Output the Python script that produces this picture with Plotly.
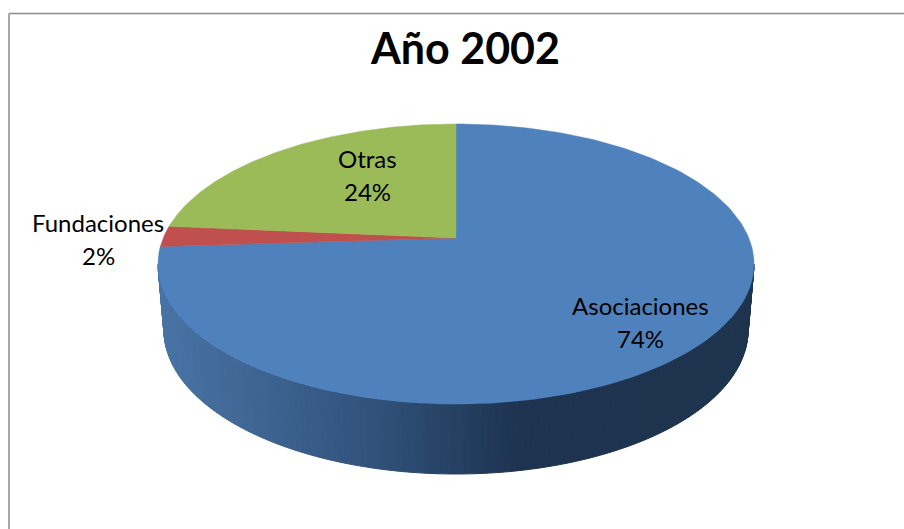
import numpy as np
import plotly.graph_objects as go

categories = ["Asociaciones", "Fundaciones", "Otras"]
values = [74.0, 2.4, 23.6]
colors = ["#4F81BD", "#C0504D", "#9BBB59"]
title = "Año 2002"

# label centres in page pixels
label_x = [640, 98, 367]
label_y = [305, 222, 158]
line_gap = 33

FONT = "Lato"
W, H = 904, 529
CX = 456
K = 0.1857  # perspective of the tilted disc


def project(theta, y0, a, b):
    # theta clockwise from the top of the pie
    s, v = np.sin(theta), np.cos(theta)
    w = 1 + K * v
    return CX + b * s / w, y0 - a * v / w


def top(theta):
    return project(theta, 238, 135.2, 292.8)


def bottom(theta):
    return project(theta, 303.3, 139, 287)


def wall_color(x):
    # side shading goes dark from left to right
    xs = [158, 250, 383, 517, 750]
    rs = [72, 64, 47, 30, 29]
    gs = [116, 102, 80, 52, 51]
    bs = [166, 148, 120, 80, 78]
    return "rgb(%d,%d,%d)" % (np.interp(x, xs, rs), np.interp(x, xs, gs), np.interp(x, xs, bs))


fig = go.Figure()

# side wall, thin strips from the right edge round to the left edge
edge = np.arcsin(K)
steps = np.linspace(np.pi / 2 + edge, 3 * np.pi / 2 - edge, 161)
for t0, t1 in zip(steps[:-1], steps[1:]):
    x0, y0 = top(t0)
    x1, y1 = top(t1)
    x2, y2 = bottom(t1)
    x3, y3 = bottom(t0)
    c = wall_color((x0 + x1) / 2)
    fig.add_trace(go.Scatter(x=[x0, x1, x2, x3, x0], y=[y0, y1, y2, y3, y0], mode="lines",
                             fill="toself", fillcolor=c, line=dict(color=c, width=1),
                             hoverinfo="skip", showlegend=False))

# top face
start = 0
total = sum(values)
for name, val, col in zip(categories, values, colors):
    end = start + val / total * 2 * np.pi
    th = np.linspace(start, end, 200)
    px, py = top(th)
    fig.add_trace(go.Scatter(x=[CX] + list(px) + [CX], y=[238] + list(py) + [238], mode="lines",
                             fill="toself", fillcolor=col, line=dict(color=col, width=0.5),
                             name=name, hoverinfo="name", showlegend=False))
    start = end

# labels: name on one line, percent on the next
for name, val, lx, ly in zip(categories, values, label_x, label_y):
    fig.add_annotation(x=lx, y=ly, text=name, showarrow=False, font=dict(family=FONT, size=24, color="#000000"))
    fig.add_annotation(x=lx, y=ly + line_gap, text="%d%%" % round(val), showarrow=False,
                       font=dict(family=FONT, size=24, color="#000000"))

# chart frame runs off the page on the right and the bottom
fig.add_shape(type="line", x0=9, x1=9, y0=13.5, y1=H, line=dict(color="#8c8c8c", width=1.5))
fig.add_shape(type="line", x0=9, x1=W, y0=13.5, y1=13.5, line=dict(color="#8c8c8c", width=1.5))

fig.update_layout(
    width=W, height=H,
    margin=dict(l=0, r=0, t=0, b=0),
    paper_bgcolor="white", plot_bgcolor="white",
    title=dict(text="<b>%s</b>" % title, x=465.5 / W, y=1 - 49 / H, xanchor="center", yanchor="middle",
               font=dict(family=FONT, size=43, color="#000000")),
    xaxis=dict(range=[0, W], visible=False, fixedrange=True),
    yaxis=dict(range=[H, 0], visible=False, fixedrange=True),
    showlegend=False,
)

# browser default body margin would push the chart 8px in
fig.write_html("out.html", config=dict(displayModeBar=False),
               post_script="document.body.style.margin='0';document.body.style.overflow='hidden';")
